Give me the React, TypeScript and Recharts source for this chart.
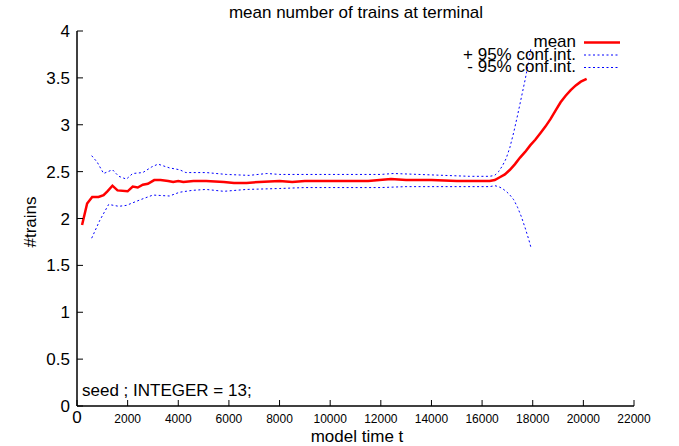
import React from "react";
import { LineChart, Line, XAxis, YAxis } from "recharts";

// model time t and the three series
const meanTimes = [200, 400, 600, 850, 1050, 1200, 1400, 1600, 2000, 2200, 2400, 2600, 2800, 3050, 3300, 3600, 3800, 4000, 4200, 4600, 5100, 5800, 6200, 6700, 7200, 8000, 8500, 9000, 10000, 11000, 11500, 12400, 13000, 14000, 15000, 16000, 16300, 16500, 16700, 16900, 17100, 17300, 17500, 17700, 17900, 18100, 18300, 18500, 18700, 18900, 19100, 19300, 19500, 19700, 19900, 20130];
const meanValues = [1.93, 2.16, 2.23, 2.23, 2.25, 2.29, 2.35, 2.30, 2.29, 2.34, 2.33, 2.36, 2.37, 2.41, 2.41, 2.40, 2.39, 2.40, 2.39, 2.40, 2.40, 2.39, 2.38, 2.38, 2.39, 2.40, 2.39, 2.40, 2.40, 2.40, 2.40, 2.42, 2.41, 2.41, 2.40, 2.40, 2.40, 2.41, 2.44, 2.47, 2.52, 2.58, 2.65, 2.71, 2.78, 2.84, 2.91, 2.98, 3.06, 3.15, 3.24, 3.31, 3.37, 3.42, 3.46, 3.49];

const upperTimes = [580, 800, 1050, 1400, 1650, 1950, 2200, 2600, 2950, 3200, 3650, 4050, 4300, 5100, 5900, 6800, 7500, 8000, 9000, 10000, 11000, 12000, 12500, 13500, 14500, 15500, 16300, 16500, 16650, 16800, 16950, 17100, 17250, 17400, 17550, 17700, 17850, 17930];
const upperValues = [2.67, 2.60, 2.48, 2.52, 2.45, 2.42, 2.48, 2.49, 2.55, 2.58, 2.54, 2.52, 2.49, 2.49, 2.47, 2.46, 2.48, 2.47, 2.47, 2.47, 2.47, 2.47, 2.48, 2.47, 2.46, 2.45, 2.45, 2.46, 2.50, 2.56, 2.64, 2.76, 2.92, 3.10, 3.29, 3.48, 3.69, 3.82];

const lowerTimes = [580, 900, 1250, 1650, 1950, 2500, 3000, 3650, 4050, 4550, 5100, 5800, 6700, 8000, 9000, 10000, 11000, 12000, 13000, 14000, 15000, 16300, 16500, 16650, 16800, 16950, 17100, 17250, 17400, 17550, 17700, 17850, 17930];
const lowerValues = [1.79, 1.98, 2.15, 2.13, 2.14, 2.20, 2.25, 2.24, 2.28, 2.30, 2.31, 2.29, 2.31, 2.32, 2.33, 2.33, 2.33, 2.33, 2.34, 2.34, 2.34, 2.34, 2.35, 2.34, 2.32, 2.29, 2.25, 2.20, 2.12, 2.02, 1.90, 1.77, 1.69];

const xTicks = [0, 2000, 4000, 6000, 8000, 10000, 12000, 14000, 16000, 18000, 20000, 22000];
const yTicks = [0, 0.5, 1, 1.5, 2, 2.5, 3, 3.5, 4];

const legendLabels = ["mean", "+ 95% conf.int.", "- 95% conf.int."];

const toPoints = (ts: number[], vs: number[]) => ts.map((t, i) => ({ t, v: vs[i] }));

const FONT = "'Liberation Sans', Arial, Helvetica, sans-serif";
const RED = "#ff0000";
const BLUE = "#0000ff";
const DOTS = "2 2.5";

const BottomTick = (props: any) => {
  const { x, y, payload } = props;
  const zero = payload.value === 0;
  return (
    <g>
      <line x1={x} y1={y} x2={x} y2={y - 6} stroke="#000" strokeWidth={1} />
      <text x={x} y={y + 17} textAnchor="middle" fontSize={zero ? 17 : 12} fontFamily={FONT} fill="#000">
        {payload.value}
      </text>
    </g>
  );
};

const TopTick = (props: any) => {
  const { x, y } = props;
  return <line x1={x} y1={y} x2={x} y2={y + 6} stroke="#000" strokeWidth={1} />;
};

const LeftTick = (props: any) => {
  const { x, y, payload } = props;
  return (
    <g>
      <line x1={x} y1={y} x2={x + 6} y2={y} stroke="#000" strokeWidth={1} />
      <text x={x - 7} y={y + 6} textAnchor="end" fontSize={17} fontFamily={FONT} fill="#000">
        {payload.value}
      </text>
    </g>
  );
};

const RightTick = (props: any) => {
  const { x, y } = props;
  return <line x1={x} y1={y} x2={x - 6} y2={y} stroke="#000" strokeWidth={1} />;
};

export default function App() {
  const meanData = toPoints(meanTimes, meanValues);
  const upperData = toPoints(upperTimes, upperValues);
  const lowerData = toPoints(lowerTimes, lowerValues);

  return (
    <div style={{ position: "absolute", left: 0, top: 0, width: 679, height: 446, background: "#fff", fontFamily: FONT }}>
      <LineChart width={679} height={446} margin={{ top: 31, right: 45, left: 0, bottom: 0 }}>
        <XAxis
          dataKey="t"
          type="number"
          domain={[0, 22000]}
          ticks={xTicks}
          allowDataOverflow
          height={40}
          tickSize={0}
          tickMargin={0}
          tickLine={false}
          axisLine={{ stroke: "#000", strokeWidth: 1.5 }}
          tick={BottomTick}
          interval={0}
        />
        <XAxis
          xAxisId="top"
          orientation="top"
          dataKey="t"
          type="number"
          domain={[0, 22000]}
          ticks={xTicks}
          height={0}
          tickSize={0}
          tickMargin={0}
          tickLine={false}
          axisLine={{ stroke: "#000", strokeWidth: 1.5 }}
          tick={TopTick}
          interval={0}
        />
        <YAxis
          type="number"
          domain={[0, 4]}
          ticks={yTicks}
          width={77}
          tickSize={0}
          tickMargin={0}
          tickLine={false}
          axisLine={{ stroke: "#000", strokeWidth: 1.5 }}
          tick={LeftTick}
          interval={0}
        />
        <YAxis
          yAxisId="right"
          orientation="right"
          type="number"
          domain={[0, 4]}
          ticks={yTicks}
          width={0}
          tickSize={0}
          tickMargin={0}
          tickLine={false}
          axisLine={{ stroke: "#000", strokeWidth: 1.5 }}
          tick={RightTick}
          interval={0}
        />
        <Line data={upperData} dataKey="v" type="linear" stroke={BLUE} strokeWidth={1} strokeDasharray={DOTS} dot={false} isAnimationActive={false} />
        <Line data={lowerData} dataKey="v" type="linear" stroke={BLUE} strokeWidth={1} strokeDasharray={DOTS} dot={false} isAnimationActive={false} />
        <Line data={meanData} dataKey="v" type="linear" stroke={RED} strokeWidth={2.5} dot={false} isAnimationActive={false} />
      </LineChart>

      <svg width={679} height={446} style={{ position: "absolute", left: 0, top: 0, pointerEvents: "none" }}>
        <text x={356} y={18} textAnchor="middle" fontSize={17} fontFamily={FONT} fill="#000">
          mean number of trains at terminal
        </text>
        <text x={357} y={442} textAnchor="middle" fontSize={17} fontFamily={FONT} fill="#000">
          model time t
        </text>
        <text x={36} y={222} textAnchor="middle" fontSize={17} fontFamily={FONT} fill="#000" transform="rotate(-90 36 222)">
          #trains
        </text>
        <text x={82} y={396} fontSize={17} fontFamily={FONT} fill="#000">
          seed ; INTEGER = 13;
        </text>
        {legendLabels.map((label, i) => (
          <g key={label}>
            <text x={576} y={47 + i * 12.5} textAnchor="end" fontSize={17} fontFamily={FONT} fill="#000">
              {label}
            </text>
            <line
              x1={584}
              x2={620}
              y1={42.5 + i * 12.5}
              y2={42.5 + i * 12.5}
              stroke={i === 0 ? RED : BLUE}
              strokeWidth={i === 0 ? 2.5 : 1}
              strokeDasharray={i === 0 ? undefined : DOTS}
            />
          </g>
        ))}
      </svg>
    </div>
  );
}
